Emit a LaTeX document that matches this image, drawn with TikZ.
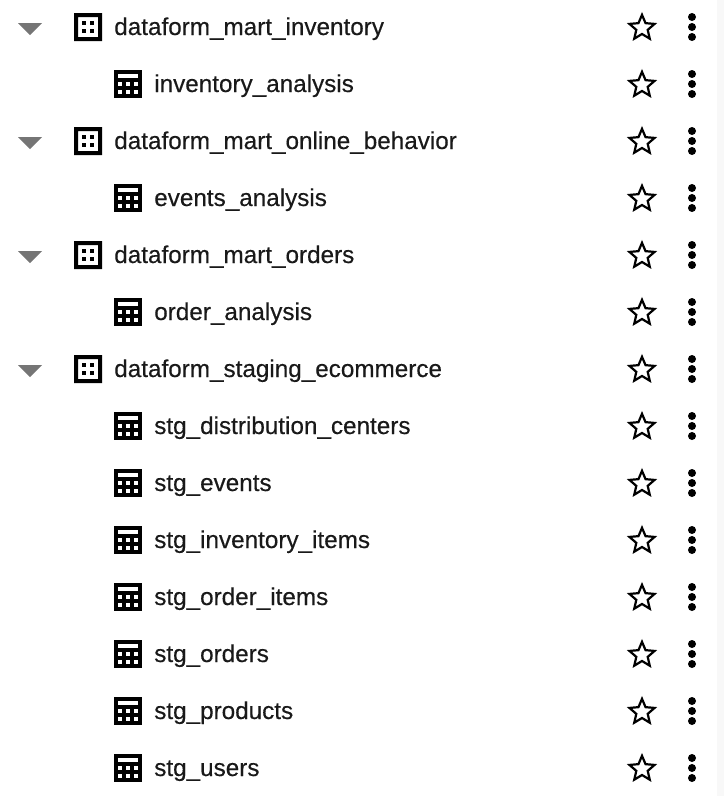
\documentclass[tikz,border=0pt]{standalone}
\usepackage{fontspec}
\setmainfont{Liberation Sans}
\newfontfamily\rowfont[FakeBold=0.35]{Liberation Sans}
\usepackage{tikz}
\usetikzlibrary{positioning}

\tikzset{
  rowlabel/.style={anchor=base west, inner sep=0pt, font=\rowfont\fontsize{18.2}{20}\selectfont, text=black!90},
  caret/.pic={\fill[caretgray] (-12,-4) -- (12,-4) -- (0,8) -- cycle;},
  dataseticon/.pic={
    \fill[black,even odd rule] (-14,-14) rectangle (14,14) (-10,-10) rectangle (10,10);
    \foreach \dx in {-4,4} \foreach \dy in {-4,4}
      \fill[black] (\dx-2,\dy-2) rectangle (\dx+2,\dy+2);
  },
  tableicon/.pic={
    \fill[black] (-14,-14) rectangle (14,14);
    \fill[white] (-10,-10) rectangle (10,-6);
    \foreach \dx in {-8,0,8} \foreach \dy in {0,8}
      \fill[white] (\dx-2,\dy-2) rectangle (\dx+2,\dy+2);
  },
  staricon/.pic={
    \draw[black, line width=2.2*0.75pt, line join=miter, fill=white]
      (-90:13.2) -- (-126:6) -- (-162:13.2) -- (-198:6) -- (-234:13.2) -- (-270:6)
      -- (-306:13.2) -- (-342:6) -- (-18:13.2) -- (-54:6) -- cycle;
  },
  moreicon/.pic={
    \foreach \dy in {-10,0,10} \fill[black] (0,\dy) circle (4);
  },
}
\definecolor{caretgray}{HTML}{757575}
\definecolor{stripgray}{HTML}{F8F8F8}

\begin{document}
\begin{tikzpicture}[x=0.75pt, y=-0.75pt]
  \useasboundingbox (0,0) rectangle (724,796);
  \fill[stripgray] (717,0) rectangle (724,796);

  % datasets
  \foreach \rowy/\rowname/\rowid in {27/dataform\_mart\_inventory/a, 141/dataform\_mart\_online\_behavior/b,
      255/dataform\_mart\_orders/c, 369/dataform\_staging\_ecommerce/d} {
    \pic at (30,\rowy) {caret};
    \pic at (88,\rowy) {dataseticon};
    \node[rowlabel] (set\rowid) at (114,\rowy+8) {\rowname};
  }

  % tables
  \foreach \rowy/\rowname/\rowid in {84/inventory\_analysis/a, 198/events\_analysis/b, 312/order\_analysis/c,
      426/stg\_distribution\_centers/d, 483/stg\_events/e, 540/stg\_inventory\_items/f,
      597/stg\_order\_items/g, 654/stg\_orders/h, 711/stg\_products/i, 768/stg\_users/j} {
    \pic at (128,\rowy) {tableicon};
    \node[rowlabel] (tbl\rowid) at (154,\rowy+8) {\rowname};
  }

  % star and menu on every row
  \foreach \r in {0,...,13} {
    \pic at (642,28+57*\r) {staricon};
    \pic at (692,27+57*\r) {moreicon};
  }
\end{tikzpicture}
\end{document}
